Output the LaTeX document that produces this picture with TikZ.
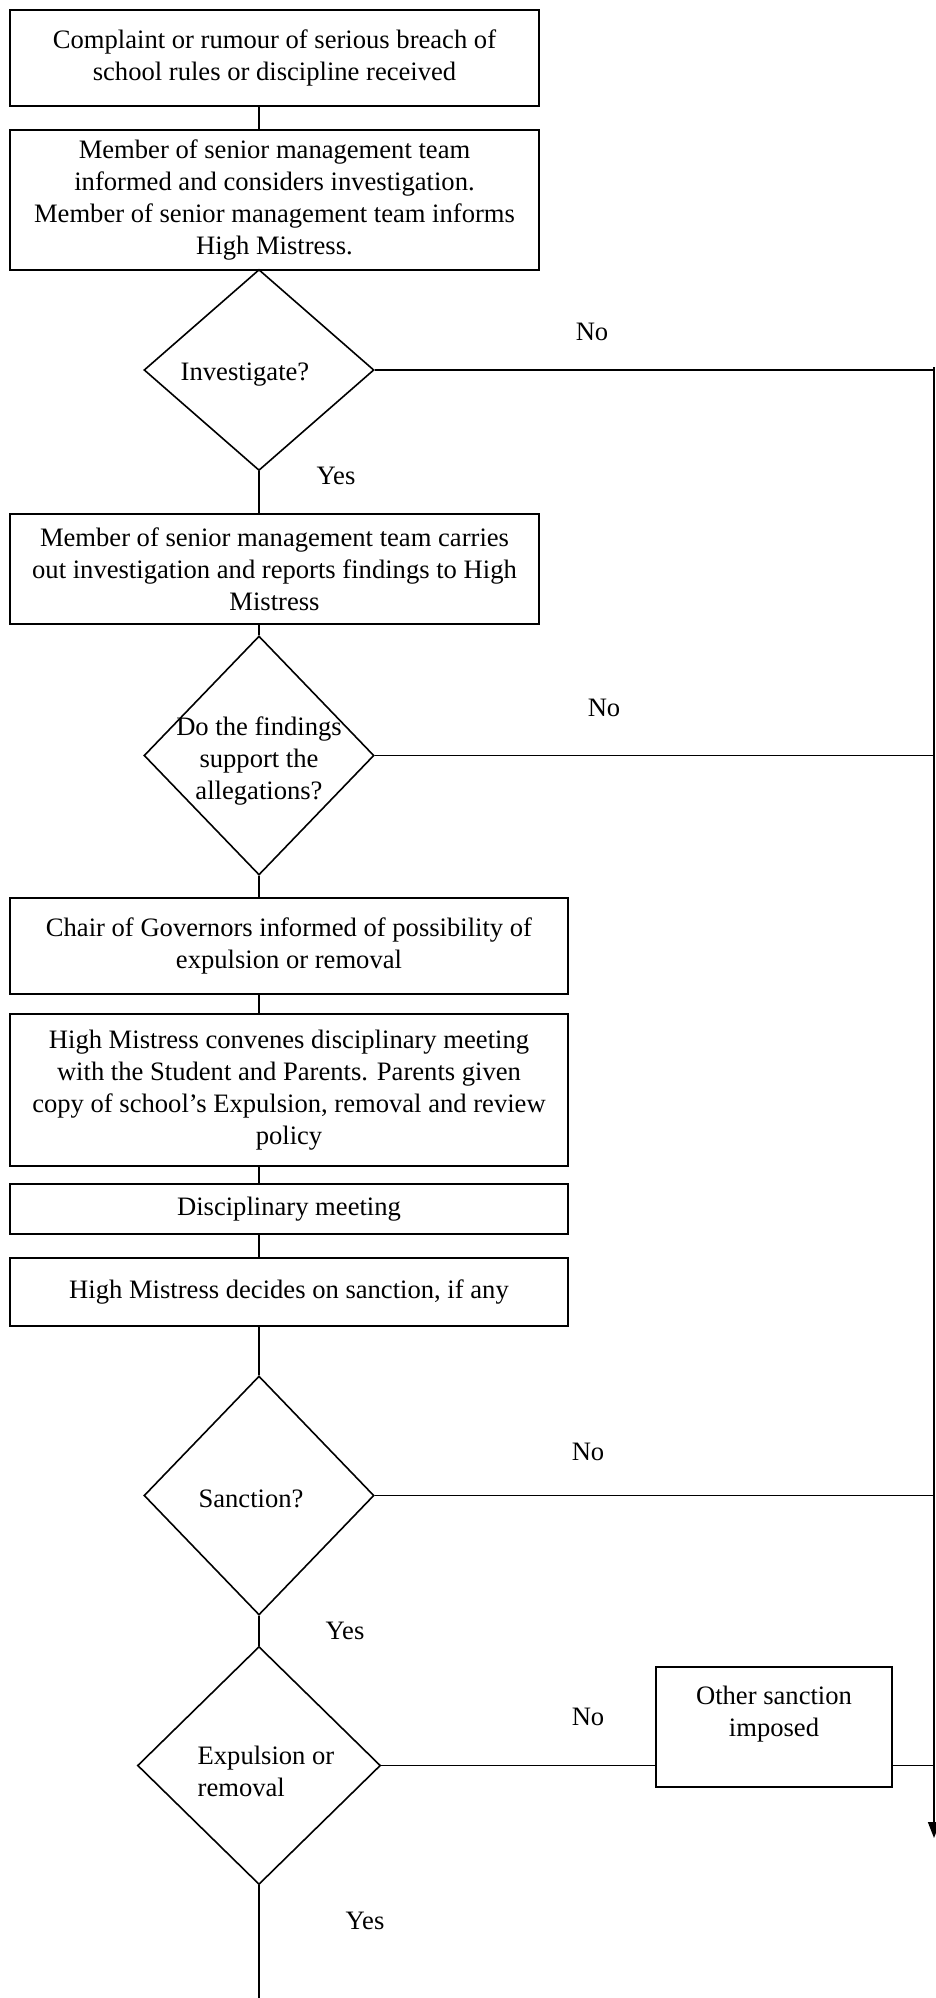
\documentclass[tikz,border=0pt]{standalone}
\usepackage{fontspec}
\setmainfont{Liberation Serif}
\usetikzlibrary{shapes.geometric,arrows.meta}
\tikzset{
  box/.style={draw, rectangle, align=center, inner sep=0pt},
  decision/.style={draw, diamond, inner sep=0pt},
  lbl/.style={inner sep=0pt},
}
\begin{document}
\begin{tikzpicture}[x=1pt, y=-1pt, line width=1.6pt,
    every node/.style={font=\fontsize{26.6}{32}\selectfont}]
  \useasboundingbox (0,0) rectangle (936,1998);
  % boxes and decisions
  \node[box, minimum width=529pt, minimum height=96pt] (rumour) at (274.5,58)
    {Complaint or rumour of serious breach of\\school rules or discipline received};
  \node[box, minimum width=529pt, minimum height=140pt] (informed) at (274.5,200)
    {Member of senior management team\\informed and considers investigation.\\Member of senior management team informs\\High Mistress.};
  \node[decision, minimum width=230pt, minimum height=201pt,
    label={[xshift=-14pt, yshift=-5pt]center:Investigate?}] (inv) at (259,370) {};
  \node[box, minimum width=529pt, minimum height=110pt] (report) at (274.5,569)
    {Member of senior management team carries\\out investigation and reports findings to High\\Mistress};
  \node[decision, minimum width=230pt, minimum height=239pt,
    label={[align=center, yshift=-5pt]center:Do the findings\\support the\\allegations?}] (support) at (259,755.5) {};
  \node[box, minimum width=558pt, minimum height=96pt] (chair) at (289,946)
    {Chair of Governors informed of possibility of\\expulsion or removal};
  \node[box, minimum width=558pt, minimum height=152pt] (convene) at (289,1090)
    {High Mistress convenes disciplinary meeting\\with the Student and Parents. Parents given\\copy of school’s Expulsion, removal and review\\policy};
  \node[box, minimum width=558pt, minimum height=50pt] (meeting) at (289,1209)
    {Disciplinary meeting};
  \node[box, minimum width=558pt, minimum height=68pt] (decide) at (289,1292)
    {High Mistress decides on sanction, if any};
  \node[decision, minimum width=230pt, minimum height=239pt,
    label={[xshift=-8pt, yshift=-3pt]center:Sanction?}] (sanction) at (259,1495.5) {};
  \node[decision, minimum width=243pt, minimum height=238pt,
    label={[align=left, xshift=7pt, yshift=-6pt]center:Expulsion or\\removal}] (expel) at (259,1765.5) {};
  \node[box, minimum width=236pt, minimum height=120pt] (other) at (774,1727)
    {Other sanction\\imposed\\\mbox{}};
  % answers
  \node[lbl] (no1) at (592,332) {No};
  \node[lbl] (yes1) at (336,476) {Yes};
  \node[lbl] (no2) at (604,708) {No};
  \node[lbl] (no3) at (588,1452) {No};
  \node[lbl] (yes3) at (345,1631) {Yes};
  \node[lbl] (no4) at (588,1717) {No};
  \node[lbl] (yes4) at (365,1921) {Yes};
  % main column and right return line
  \coordinate (col) at (259,0);
  \coordinate (rtop) at (934,367);
  \coordinate (rend) at (934,1838);
  \coordinate (bot) at (259,1998);
  \begin{scope}[-]
    \draw (rumour.south -| col) -- (informed.north -| col);
    \draw (informed.south -| col) -- (inv.north);
    \draw (inv.south) -- (report.north -| col);
    \draw (report.south -| col) -- (support.north);
    \draw (support.south) -- (chair.north -| col);
    \draw (chair.south -| col) -- (convene.north -| col);
    \draw (convene.south -| col) -- (meeting.north -| col);
    \draw (meeting.south -| col) -- (decide.north -| col);
    \draw (decide.south -| col) -- (sanction.north);
    \draw (sanction.south) -- (expel.north);
    \draw (expel.south) -- (bot);
    \draw (inv.east) -- (inv.east -| rtop);
    \draw (support.east) -- (support.east -| rtop);
    \draw (sanction.east) -- (sanction.east -| rtop);
    \draw (expel.east) -- (expel.east -| other.west);
    \draw (other.east |- expel.east) -- (expel.east -| rtop);
    \draw[-{Triangle[length=16pt, width=12pt]}] (rtop) -- (rend);
  \end{scope}
\end{tikzpicture}
\end{document}
